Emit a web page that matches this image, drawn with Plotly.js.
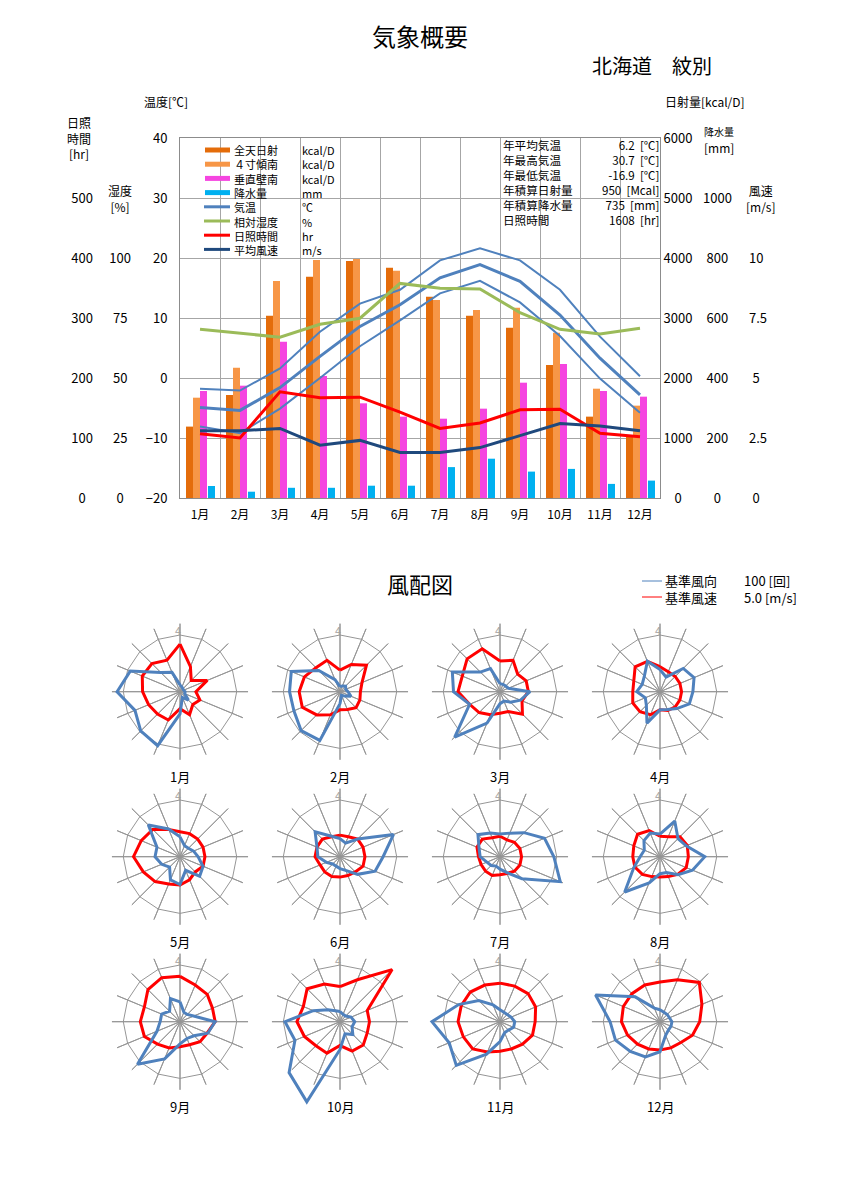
<!DOCTYPE html>
<html><head><meta charset="utf-8">
<script src="https://cdn.plot.ly/plotly-3.0.1.min.js"></script>
<style>body{margin:0;background:#fff}#c{width:841px;height:1204px}</style>
</head><body><div id="c"></div><script>
// ---------- data ----------
const months = ['1月','2月','3月','4月','5月','6月','7月','8月','9月','10月','11月','12月'];
const radGlobal = [1190,1717,3039,3689,3950,3839,3356,3039,2839,2217,1356,1040];   // kcal/D
const radTilt   = [1672,2172,3617,3967,3983,3789,3300,3133,3172,2756,1822,1539];
const radWall   = [1783,1872,2606,2033,1578,1356,1322,1489,1922,2233,1783,1689];
const precip    = [40,21,34,34,41,41,103,131,88,97,47,58];                          // mm
const tempMean  = [-4.9,-5.4,-1.6,3.6,8.6,12.2,16.7,18.9,16.1,10.5,3.3,-2.8];
const tempMax   = [-1.8,-2.1,1.6,7.7,12.4,14.7,19.6,21.6,19.6,14.7,6.9,0.3];
const tempMin   = [-8.1,-9.2,-5.1,0.0,5.3,9.6,14.1,16.2,12.6,7.0,-0.1,-5.8];
const humidity  = [70.3,68.6,67.0,72.4,74.9,89.4,87.4,87.1,77.2,70.3,68.3,70.7];
const sunshine  = [107,100,177,167,168,143,116,125,147,148,108,102];
const windSpeed = [2.8,2.8,2.9,2.2,2.4,1.9,1.9,2.1,2.6,3.1,3.0,2.8];

const legendNames = ['全天日射','４寸傾南','垂直壁南','降水量','気温','相対湿度','日照時間','平均風速'];
const legendUnits = ['kcal/D','kcal/D','kcal/D','mm','℃','%','hr','m/s'];
const statLabels = ['年平均気温','年最高気温','年最低気温','年積算日射量','年積算降水量','日照時間'];
const statValues = ['6.2  [℃]','30.7  [℃]','-16.9  [℃]','950  [Mcal]','735  [mm]','1608  [hr]'];

const sunTicks = [0,100,200,300,400,500];
const humTicks = [0,25,50,75,100];
const tempTicks = [-20,-10,0,10,20,30,40];
const radTicks = [0,1000,2000,3000,4000,5000,6000];
const precipTicks = [0,200,400,600,800,1000];
const windTicks = [0,2.5,5,7.5,10];

const dirs = ['N','NNE','NE','ENE','E','ESE','SE','SSE','S','SSW','SW','WSW','W','WNW','NW','NNW'];
// wind direction frequency [回] per month (16 directions from N clockwise)
const roseFreq = [
  [12,9,7,7,9,9,21,11,39,103,98,86,111,95,48,37],
  [9,11,14,11,14,21,11,7,21,93,97,88,89,93,53,23],
  [14,14,14,16,53,39,26,18,21,60,113,58,82,91,49,44],
  [39,28,58,65,58,56,42,34,32,60,34,28,41,34,39,58],
  [35,21,21,26,32,44,49,26,49,44,26,35,44,44,79,53],
  [32,26,44,102,76,67,44,26,21,18,18,26,39,44,62,39],
  [40,45,60,85,95,115,55,30,22,18,22,25,35,40,55,45],
  [40,68,45,50,79,62,45,30,30,50,88,50,35,30,40,45],
  [35,18,18,26,62,53,35,32,39,71,106,44,35,35,26,44],
  [18,14,14,21,26,23,32,23,49,153,127,86,97,51,30,21],
  [21,18,18,21,26,26,21,21,35,62,109,97,120,79,53,32],
  [21,18,18,18,21,21,21,26,53,67,74,85,88,123,62,26]
];
// mean wind speed [m/s] per month and direction
const roseSpeed = [
  [4.2,2.4,1.4,2.6,1.4,1.9,1.6,2.2,1.5,2.7,2.8,3.0,3.3,3.6,3.5,3.0],
  [1.9,2.6,3.3,2.1,1.8,1.9,2.0,1.7,1.6,2.2,2.9,3.6,3.6,3.4,3.0,3.0],
  [2.7,3.0,2.2,2.5,2.5,2.1,2.8,1.9,1.9,2.2,2.6,2.9,3.7,3.6,4.1,4.1],
  [2.2,1.9,1.9,1.9,1.9,1.9,1.9,1.8,1.6,2.2,2.5,2.6,2.4,2.5,3.1,2.9],
  [2.2,2.2,2.2,2.2,2.2,2.2,1.9,2.2,2.5,2.6,3.1,3.5,4.1,3.7,3.4,2.6],
  [1.9,1.9,2.2,2.2,2.2,2.2,1.9,1.8,1.8,1.9,1.9,1.9,2.2,2.2,2.2,1.9],
  [1.8,1.6,1.8,1.9,1.9,1.9,1.8,1.6,1.6,1.8,1.8,1.8,1.9,2.2,2.2,1.8],
  [1.8,1.9,2.5,2.6,2.5,2.5,2.2,1.9,1.8,1.9,2.2,2.4,2.4,2.5,2.8,2.5],
  [4.0,3.5,3.4,3.1,3.1,2.6,2.5,2.2,2.2,2.5,2.8,3.4,3.5,3.4,4.0,4.2],
  [3.1,4.0,6.5,2.6,2.6,2.6,2.9,2.8,2.1,3.0,3.0,3.4,3.8,3.5,4.1,3.6],
  [3.4,3.4,3.5,3.4,3.1,3.1,2.8,2.6,2.6,2.9,3.4,3.5,3.7,3.7,3.7,3.5],
  [3.5,4.0,4.9,4.0,3.5,3.1,2.6,2.5,2.5,2.6,2.8,3.1,3.4,3.5,3.5,3.5]
];
const refFreq = 100, refSpeed = 5.0;

// ---------- helpers ----------
const W = 841, H = 1204;
const fx = x => x / W, fy = y => 1 - y / H;
const FONT = '"Noto Sans CJK JP","Noto Sans",sans-serif';
const GRID = '#a6a6a6', FRAME = '#8c8c8c';
const FS = '\u2007', PS = '\u2008';   // figure space / punctuation space, used to centre tick labels
const traces = [];
const annotations = [];
const shapes = [];
function txt(x, y, text, size, anchor, extra) {
  annotations.push(Object.assign({xref:'paper', yref:'paper', x: fx(x), y: fy(y), text: text, showarrow:false,
    xanchor: anchor || 'center', yanchor:'middle', font:{family:FONT, size:size || 12, color:'#000'}}, extra || {}));
}
function padLabels(vals, side) {
  const labels = vals.map(String);
  const maxLen = Math.max(...labels.map(s => s.replace('.', '').length));
  return labels.map(s => {
    const d = maxLen - s.replace('.', '').length;
    const half = FS.repeat(Math.floor(d / 2)) + (d % 2 ? PS : '');
    return side === 'right' ? half + s : s + half;
  });
}

// ---------- top chart ----------
const barW = 0.175;
traces.push({type:'bar', x:months, y:radGlobal, xaxis:'x', yaxis:'y', marker:{color:'#E46C0A'}, width:barW, offset:-0.35});
traces.push({type:'bar', x:months, y:radTilt,   xaxis:'x', yaxis:'y', marker:{color:'#F79646'}, width:barW, offset:-0.175});
traces.push({type:'bar', x:months, y:radWall,   xaxis:'x', yaxis:'y', marker:{color:'#F545E0'}, width:barW, offset:0});
traces.push({type:'bar', x:months, y:precip,    xaxis:'x', yaxis:'y2', marker:{color:'#00B0F0'}, width:barW, offset:0.2});
traces.push({type:'scatter', mode:'lines', x:months, y:tempMax,  xaxis:'x', yaxis:'y3', line:{color:'#4F81BD', width:2}});
traces.push({type:'scatter', mode:'lines', x:months, y:tempMin,  xaxis:'x', yaxis:'y3', line:{color:'#4F81BD', width:2}});
traces.push({type:'scatter', mode:'lines', x:months, y:tempMean, xaxis:'x', yaxis:'y3', line:{color:'#4F81BD', width:3}});
traces.push({type:'scatter', mode:'lines', x:months, y:humidity, xaxis:'x', yaxis:'y4', line:{color:'#9BBB59', width:3}});
traces.push({type:'scatter', mode:'lines', x:months, y:sunshine, xaxis:'x', yaxis:'y5', line:{color:'#FF0000', width:3}});
traces.push({type:'scatter', mode:'lines', x:months, y:windSpeed,xaxis:'x', yaxis:'y6', line:{color:'#1F497D', width:3}});

const tf = {family:FONT, size:13, color:'#000'};
const dom = [fy(498), fy(138)];
const baseY = {showgrid:false, zeroline:false, showline:false, ticks:'', tickfont:tf, fixedrange:true};

// legend (top chart)
const legColors = ['#E46C0A','#F79646','#F545E0','#00B0F0','#4F81BD','#9BBB59','#FF0000','#1F497D'];
const legTop = 150, legStep = 14.2;
legendNames.forEach((n,i) => {
  const y = legTop + i * legStep;
  if (i < 4) shapes.push({type:'rect', xref:'paper', yref:'paper', x0:fx(205), x1:fx(230), y0:fy(y-2.5), y1:fy(y+2.5), fillcolor:legColors[i], line:{width:0}});
  else shapes.push({type:'line', xref:'paper', yref:'paper', x0:fx(204), x1:fx(230), y0:fy(y), y1:fy(y), line:{color:legColors[i], width:3}});
});
const legMid = legTop + legStep * (legendNames.length - 1) / 2;
txt(232, legMid, legendNames.join('<br>'), 11, 'left', {align:'left'});
txt(300, legMid, legendUnits.join('<br>'), 11, 'left', {align:'left'});
// statistics
const statTop = 145, statStep = 15.1;
const statMid = statTop + statStep * (statLabels.length - 1) / 2;
txt(501, statMid, statLabels.join('<br>'), 11.6, 'left', {align:'left'});
txt(661, statMid, statValues.join('<br>'), 11.6, 'right', {align:'right'});

// titles
txt(420, 36, '気象概要', 24);
txt(652, 66, '北海道　紋別', 20);
txt(166, 101, '温度[℃]', 12);
txt(79, 138, '日照<br>時間<br>[hr]', 12);
txt(120, 198, '湿度<br>[%]', 12);
txt(705, 101, '日射量[kcal/D]', 12);
txt(719, 131, '降水量', 10);
txt(719, 147, '[mm]', 12);
txt(761, 198, '風速<br>[m/s]', 12);

// ---------- wind roses ----------
const colX = [180,340,500,660], rowY = [691.7,856.7,1021.7];
const pxPerUnit = 56.7 / refSpeed;
const rMaxSpeed = 9, rMaxFreq = rMaxSpeed * refFreq / refSpeed;
const rad = rMaxSpeed * pxPerUnit;
const layoutPolar = {};
const spokeR = [], spokeT = [];
dirs.forEach(d => { spokeR.push(0, 6, 0); spokeT.push(d, d, d); });
const ringT = dirs.concat([dirs[0]]), ringR = ringT.map(() => refSpeed);
months.forEach((m, i) => {
  const cx = colX[i % 4], cy = rowY[Math.floor(i / 4)];
  const domain = {x:[fx(cx - rad), fx(cx + rad)], y:[fy(cy + rad), fy(cy - rad)]};
  const pa = 'polar' + (2*i + 1 === 1 ? '' : 2*i + 1), pb = 'polar' + (2*i + 2);
  const ang = {visible:false, rotation:90, direction:'clockwise', type:'category', categoryarray:dirs};
  layoutPolar[pa] = {domain, bgcolor:'rgba(0,0,0,0)', radialaxis:{visible:false, range:[0, rMaxSpeed]}, angularaxis:ang};
  layoutPolar[pb] = {domain, bgcolor:'rgba(0,0,0,0)', radialaxis:{visible:false, range:[0, rMaxFreq]}, angularaxis:Object.assign({}, ang)};
  traces.push({type:'scatterpolar', subplot:pa, mode:'lines', r:ringR, theta:ringT, line:{color:'#969696', width:1}});
  traces.push({type:'scatterpolar', subplot:pa, mode:'lines', r:spokeR, theta:spokeT, line:{color:'#969696', width:1}});
  traces.push({type:'scatterpolar', subplot:pa, mode:'lines', r:roseSpeed[i].concat([roseSpeed[i][0]]), theta:ringT, line:{color:'#FF0000', width:3}});
  traces.push({type:'scatterpolar', subplot:pb, mode:'lines', r:roseFreq[i].concat([roseFreq[i][0]]), theta:ringT, line:{color:'#4F81BD', width:3}});
  txt(cx, cy + 85, m, 13);
  txt(cx - 2, cy - 62, '4', 11, 'center', {font:{family:FONT, size:11, color:'#a0a0a0'}});
});
txt(420, 583, '風配図', 22);
shapes.push({type:'line', xref:'paper', yref:'paper', x0:fx(642), x1:fx(662), y0:fy(581), y1:fy(581), line:{color:'#4F81BD', width:1}});
shapes.push({type:'line', xref:'paper', yref:'paper', x0:fx(642), x1:fx(662), y0:fy(597), y1:fy(597), line:{color:'#FF0000', width:1}});
txt(663, 589, '基準風向<br>基準風速', 13, 'left', {align:'left'});
txt(742, 589, refFreq + ' [回]<br>' + refSpeed.toFixed(1) + ' [m/s]', 13, 'left', {align:'left'});

const layout = Object.assign({
  width:W, height:H, margin:{l:0, r:0, t:0, b:0, autoexpand:false},
  paper_bgcolor:'#fff', plot_bgcolor:'rgba(0,0,0,0)', showlegend:false,
  font:{family:FONT, size:12, color:'#000'},
  xaxis:{domain:[fx(180), fx(660)], anchor:'y', type:'category', tickson:'boundaries', showgrid:true, gridcolor:GRID,
         showline:true, linecolor:FRAME, mirror:true, ticks:'', ticklabelstandoff:6, tickfont:{family:FONT, size:12}, fixedrange:true},
  yaxis:Object.assign({}, baseY, {domain:dom, anchor:'x', side:'right', range:[0,6000], tickvals:radTicks, ticktext:padLabels(radTicks,'right'),
         showgrid:true, gridcolor:GRID, showline:true, linecolor:FRAME}),
  yaxis2:Object.assign({}, baseY, {overlaying:'y', side:'right', anchor:'free', position:fx(702), range:[0,1200], tickvals:precipTicks, ticktext:padLabels(precipTicks,'right')}),
  yaxis3:Object.assign({}, baseY, {overlaying:'y', side:'left', anchor:'x', range:[-20,40], tickvals:tempTicks, ticklabelstandoff:9, showline:true, linecolor:FRAME}),
  yaxis4:Object.assign({}, baseY, {overlaying:'y', side:'left', anchor:'free', position:fx(131), range:[0,150], tickvals:humTicks, ticktext:padLabels(humTicks,'left')}),
  yaxis5:Object.assign({}, baseY, {overlaying:'y', side:'left', anchor:'free', position:fx(93), range:[0,600], tickvals:sunTicks, ticktext:padLabels(sunTicks,'left')}),
  yaxis6:Object.assign({}, baseY, {overlaying:'y', side:'right', anchor:'free', position:fx(748), range:[0,15], tickvals:windTicks, ticktext:padLabels(windTicks,'right')}),
  annotations, shapes
}, layoutPolar);

Plotly.newPlot('c', traces, layout, {staticPlot:true});
</script></body></html>
